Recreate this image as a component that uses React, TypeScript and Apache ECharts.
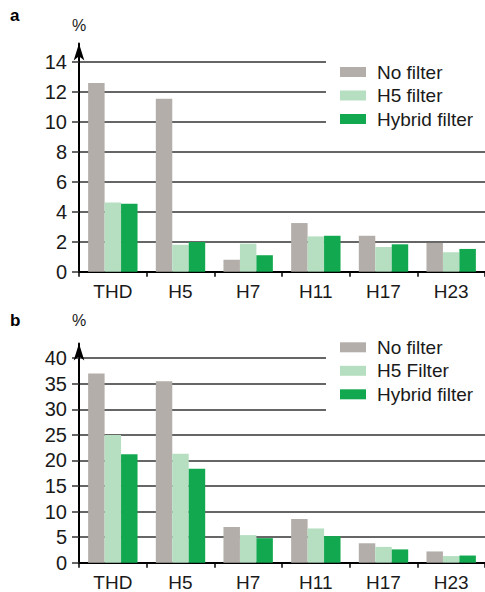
import { useEffect, useRef } from 'react';
import * as echarts from 'echarts';

const categories = ['THD', 'H5', 'H7', 'H11', 'H17', 'H23'];

const aNoFilter = [12.6, 11.55, 0.8, 3.25, 2.4, 1.92];
const aH5Filter = [4.62, 1.8, 1.87, 2.36, 1.65, 1.3];
const aHybrid = [4.54, 1.98, 1.1, 2.4, 1.83, 1.52];

const bNoFilter = [37.0, 35.5, 7.0, 8.55, 3.8, 2.2];
const bH5Filter = [25.0, 21.3, 5.4, 6.7, 3.1, 1.3];
const bHybrid = [21.2, 18.4, 4.8, 5.2, 2.6, 1.4];

const aTicks = [0, 2, 4, 6, 8, 10, 12, 14];
const bTicks = [0, 5, 10, 15, 20, 25, 30, 35, 40];

const legendA = ['No filter', 'H5 filter', 'Hybrid filter'];
const legendB = ['No filter', 'H5 Filter', 'Hybrid filter'];

const colors = ['#b3aea9', '#b6dfc1', '#12a84f'];
const FONT = '"Liberation Sans", Arial, sans-serif';
const TXT = '#1a1a1a';

function yAxis(gridIndex: number, max: number, interval: number, ticks: number[]) {
  return {
    gridIndex,
    type: 'value',
    min: 0,
    max,
    interval,
    axisLine: {
      show: true,
      lineStyle: { color: '#000', width: 2 },
      symbol: ['none', 'arrow'],
      symbolSize: [8, 17],
    },
    axisTick: { show: true, length: 7, customValues: ticks, lineStyle: { color: '#333', width: 1.5 } },
    axisLabel: { customValues: ticks, margin: 12, fontSize: 20, color: TXT, fontFamily: FONT },
    splitLine: { show: true, lineStyle: { color: '#333', width: 1.5 } },
  };
}

function xAxis(gridIndex: number) {
  return {
    gridIndex,
    type: 'category',
    data: categories,
    axisLine: { lineStyle: { color: '#000', width: 2 } },
    axisTick: { show: true, length: 5, lineStyle: { color: '#000', width: 1.5 } },
    axisLabel: { fontSize: 19, margin: 10, color: TXT, fontFamily: FONT },
  };
}

function legend(top: number, data: string[]) {
  return {
    orient: 'vertical',
    left: 326,
    top,
    padding: [8, 30, 8, 14],
    backgroundColor: '#fff',
    itemWidth: 26,
    itemHeight: 10,
    itemGap: 3.5,
    icon: 'rect',
    selectedMode: false,
    data,
    textStyle: { fontSize: 19, color: TXT, fontFamily: FONT, lineHeight: 20, padding: [0, 0, 0, 6] },
  };
}

function bar(name: string, data: number[], idx: number, color: string) {
  return {
    name,
    type: 'bar',
    xAxisIndex: idx,
    yAxisIndex: idx,
    data,
    barGap: '0%',
    barCategoryGap: '27%',
    itemStyle: { color },
  };
}

export default function App() {
  const ref = useRef<HTMLDivElement>(null);
  useEffect(() => {
    if (!ref.current) return;
    const chart = echarts.init(ref.current, null, { renderer: 'svg' });
    chart.setOption({
      animation: false,
      backgroundColor: '#fff',
      grid: [
        { left: 79, top: 43.4, width: 408.4, height: 228.3 },
        { left: 79, top: 343.4, width: 408.4, height: 219.3 },
      ],
      xAxis: [xAxis(0), xAxis(1)],
      yAxis: [yAxis(0, 15.25, 2, aTicks), yAxis(1, 42.9, 5, bTicks)],
      legend: [legend(54, legendA), legend(329.3, legendB)],
      graphic: [
        { type: 'text', x: 10, y: 15.8, style: { text: 'a', font: `bold 17px ${FONT}`, fill: '#000', verticalAlign: 'middle' } },
        { type: 'text', x: 10, y: 320, style: { text: 'b', font: `bold 17px ${FONT}`, fill: '#000', verticalAlign: 'middle' } },
        { type: 'text', x: 79, y: 25.1, style: { text: '%', font: `16px ${FONT}`, fill: TXT, align: 'center', verticalAlign: 'middle' } },
        { type: 'text', x: 79, y: 320.4, style: { text: '%', font: `16px ${FONT}`, fill: TXT, align: 'center', verticalAlign: 'middle' } },
      ],
      series: [
        bar(legendA[0], aNoFilter, 0, colors[0]),
        bar(legendA[1], aH5Filter, 0, colors[1]),
        bar(legendA[2], aHybrid, 0, colors[2]),
        bar(legendB[0], bNoFilter, 1, colors[0]),
        bar(legendB[1], bH5Filter, 1, colors[1]),
        bar(legendB[2], bHybrid, 1, colors[2]),
      ],
    });
    return () => chart.dispose();
  }, []);
  return <div ref={ref} style={{ position: 'absolute', left: 0, top: 0, width: 485, height: 592 }} />;
}
